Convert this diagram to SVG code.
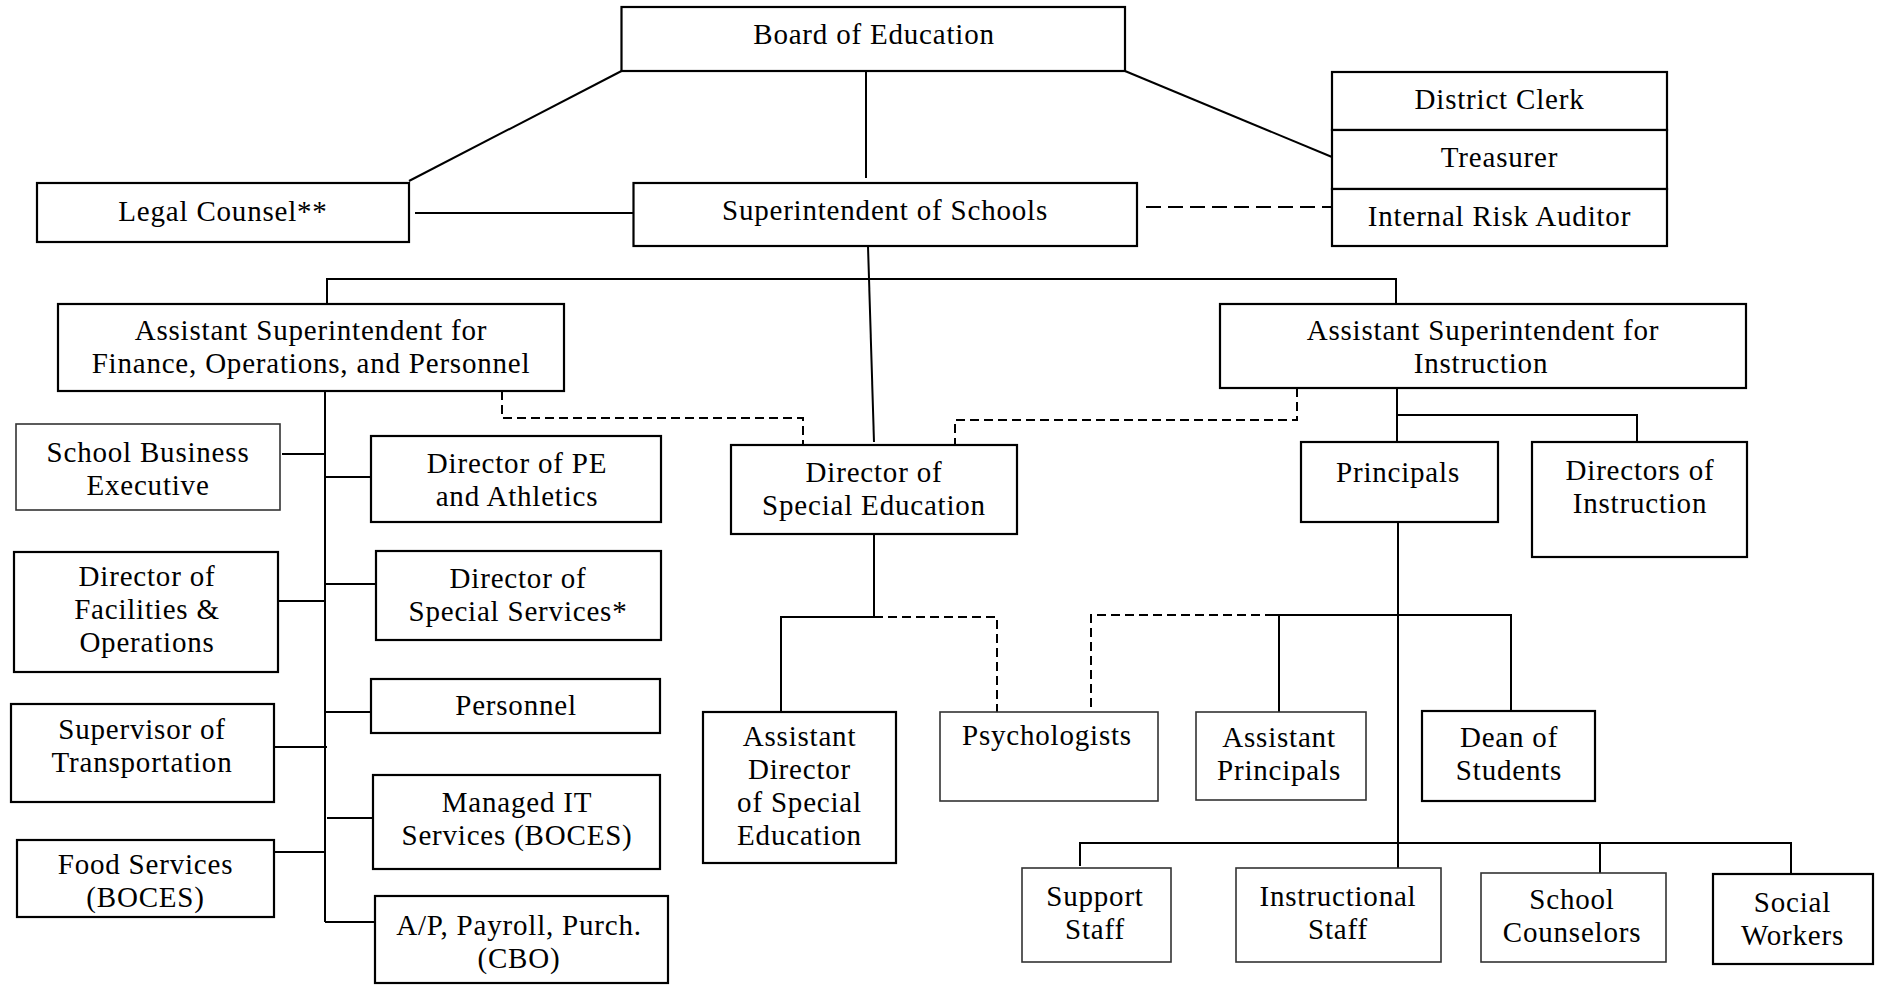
<svg xmlns="http://www.w3.org/2000/svg" width="1885" height="986" viewBox="0 0 1885 986">
<style>
.b{fill:#fff;stroke:#000;stroke-width:2.2}
.bl{fill:#fff;stroke:#333;stroke-width:1.6}
text{font-family:"Liberation Serif","Times New Roman",serif;font-size:29px;letter-spacing:0.8px;fill:#000;text-anchor:middle}
.c{fill:none;stroke:#000;stroke-width:2}
.d1{fill:none;stroke:#000;stroke-width:2;stroke-dasharray:15 7}
.d2{fill:none;stroke:#000;stroke-width:2;stroke-dasharray:9 5}
</style>
<rect width="1885" height="986" fill="#fff"/>
<g id="connectors">
<path class="c" d="M621.5 71 L409 181"/>
<path class="c" d="M866 71 V178"/>
<path class="c" d="M1125 71 L1332 157"/>
<path class="c" d="M415 213 H633"/>
<path class="d1" d="M1146 207 H1332"/>
<path class="c" d="M868 246 L874 442"/>
<path class="c" d="M327 304 V279 H1396 V304"/>
<path class="c" d="M325 391 V922"/>
<path class="c" d="M282 454 H326"/>
<path class="c" d="M325 477 H371"/>
<path class="c" d="M278 601 H325"/>
<path class="c" d="M325 584 H376"/>
<path class="c" d="M325 712 H371"/>
<path class="c" d="M274 747 H327"/>
<path class="c" d="M327 818 H373"/>
<path class="c" d="M274 852 H325"/>
<path class="c" d="M325 922 H375"/>
<path class="d2" d="M502 391 V418 H803 V445"/>
<path class="d2" d="M1297 388 V420 H955 V445"/>
<path class="c" d="M1397 388 V415"/>
<path class="c" d="M1397 442 V415 H1637 V442"/>
<path class="c" d="M874 534 V617 H781 V712"/>
<path class="d2" d="M874 617 H997 V712"/>
<path class="c" d="M1398 522 V868"/>
<path class="d2" d="M1274 615 H1091 V712"/>
<path class="c" d="M1274 615 H1511 V711"/>
<path class="c" d="M1279 615 V712"/>
<path class="c" d="M1080 866 V843 H1791 V874"/>
<path class="c" d="M1600 843 V873"/>
</g>
<g id="board"><rect class="b" x="621.5" y="7" width="503.5" height="64"/><text x="874" y="44">Board of Education</text></g>
<g id="legal"><rect class="b" x="37" y="183" width="372" height="59"/><text x="223" y="221">Legal Counsel**</text></g>
<g id="superintendent"><rect class="b" x="633.5" y="183" width="503.5" height="63"/><text x="885" y="220">Superintendent of Schools</text></g>
<g id="clerk"><rect class="b" x="1332" y="72" width="335" height="58"/><text x="1499.5" y="109">District Clerk</text></g>
<g id="treasurer"><rect class="b" x="1332" y="130" width="335" height="59"/><text x="1499.5" y="167">Treasurer</text></g>
<g id="auditor"><rect class="b" x="1332" y="189" width="335" height="57"/><text x="1499.5" y="226">Internal Risk Auditor</text></g>
<g id="asst-fop"><rect class="b" x="58" y="304" width="506" height="87"/><text x="311" y="340">Assistant Superintendent for</text><text x="311" y="373">Finance, Operations, and Personnel</text></g>
<g id="asst-instr"><rect class="b" x="1220" y="304" width="526" height="84"/><text x="1483" y="340">Assistant Superintendent for</text><text x="1481" y="373">Instruction</text></g>
<g id="sbe"><rect class="bl" x="16" y="424" width="264" height="86"/><text x="148" y="461.5">School Business</text><text x="148" y="494.5">Executive</text></g>
<g id="pe"><rect class="b" x="371" y="436" width="290" height="86"/><text x="517" y="472.5">Director of PE</text><text x="517" y="505.5">and Athletics</text></g>
<g id="facilities"><rect class="b" x="14" y="552" width="264" height="120"/><text x="147" y="586">Director of</text><text x="147" y="619">Facilities &amp;</text><text x="147" y="652">Operations</text></g>
<g id="special-services"><rect class="b" x="376" y="551" width="285" height="89"/><text x="518" y="588">Director of</text><text x="518" y="621">Special Services*</text></g>
<g id="personnel"><rect class="b" x="371" y="679" width="289" height="54"/><text x="516" y="715">Personnel</text></g>
<g id="transportation"><rect class="b" x="11" y="704" width="263" height="98"/><text x="142" y="738.5">Supervisor of</text><text x="142" y="771.5">Transportation</text></g>
<g id="it"><rect class="b" x="373" y="775" width="287" height="94"/><text x="517" y="811.5">Managed IT</text><text x="517" y="844.5">Services (BOCES)</text></g>
<g id="food"><rect class="b" x="17" y="840" width="257" height="77"/><text x="145.5" y="874">Food Services</text><text x="145.5" y="907">(BOCES)</text></g>
<g id="ap"><rect class="b" x="375" y="896" width="293" height="87"/><text x="519" y="935">A/P, Payroll, Purch.</text><text x="519" y="968">(CBO)</text></g>
<g id="dir-sped"><rect class="b" x="731" y="445" width="286" height="89"/><text x="874" y="481.5">Director of</text><text x="874" y="514.5">Special Education</text></g>
<g id="principals"><rect class="b" x="1301" y="442" width="197" height="80"/><text x="1398" y="482">Principals</text></g>
<g id="dir-instr"><rect class="b" x="1532" y="442" width="215" height="115"/><text x="1640" y="480">Directors of</text><text x="1640" y="513">Instruction</text></g>
<g id="asst-dir-sped"><rect class="b" x="703" y="712" width="193" height="151"/><text x="799.5" y="746">Assistant</text><text x="799.5" y="779">Director</text><text x="799.5" y="812">of Special</text><text x="799.5" y="845">Education</text></g>
<g id="psychologists"><rect class="bl" x="940" y="712" width="218" height="89"/><text x="1047" y="745">Psychologists</text></g>
<g id="asst-principals"><rect class="bl" x="1196" y="712" width="170" height="88"/><text x="1279" y="747">Assistant</text><text x="1279" y="780">Principals</text></g>
<g id="dean"><rect class="b" x="1422" y="711" width="173" height="90"/><text x="1509" y="747">Dean of</text><text x="1509" y="780">Students</text></g>
<g id="support"><rect class="bl" x="1022" y="868" width="149" height="94"/><text x="1095" y="906">Support</text><text x="1095" y="939">Staff</text></g>
<g id="instructional"><rect class="bl" x="1236" y="868" width="205" height="94"/><text x="1338" y="906">Instructional</text><text x="1338" y="939">Staff</text></g>
<g id="counselors"><rect class="bl" x="1481" y="873" width="185" height="89"/><text x="1572" y="909">School</text><text x="1572" y="942">Counselors</text></g>
<g id="social"><rect class="b" x="1713" y="874" width="160" height="90"/><text x="1792.5" y="911.5">Social</text><text x="1792.5" y="944.5">Workers</text></g>
</svg>
